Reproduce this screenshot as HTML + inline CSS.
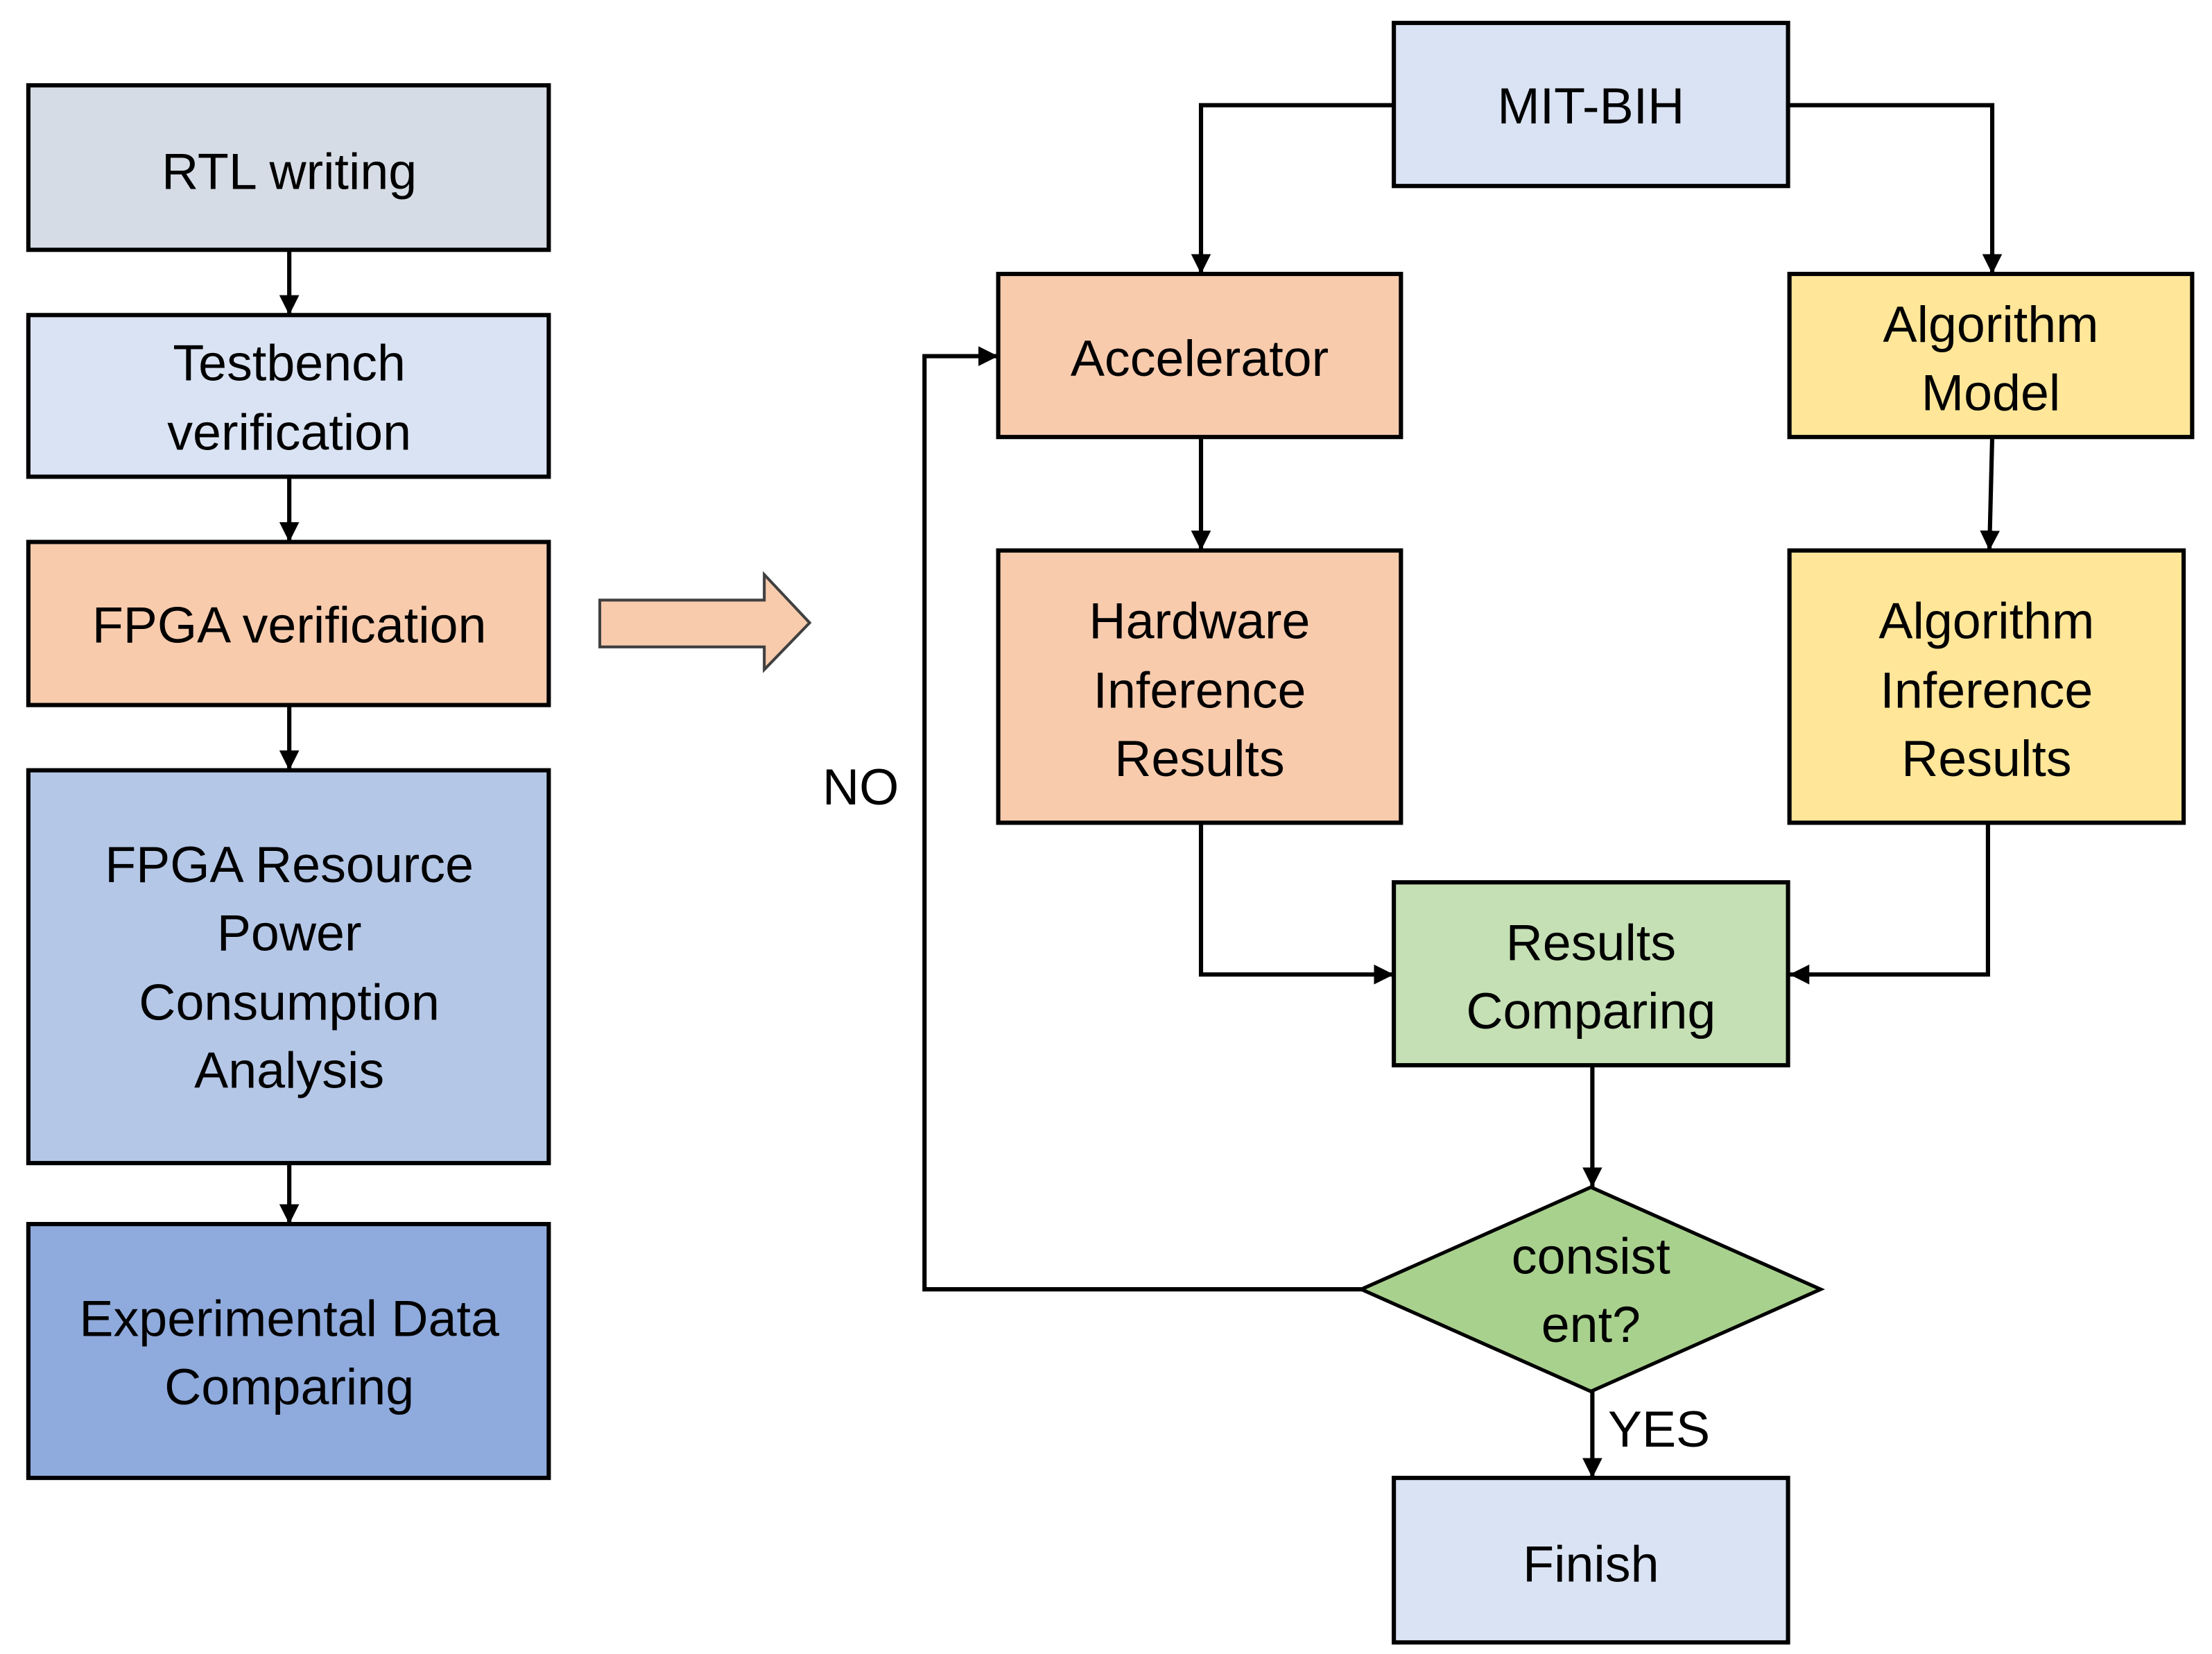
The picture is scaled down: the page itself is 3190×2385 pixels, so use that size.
<!DOCTYPE html>
<html><head><style>html,body{margin:0;padding:0;background:#fff}svg{display:block}</style></head>
<body>
<svg width="3190" height="2385" viewBox="0 0 1560 1166" xmlns="http://www.w3.org/2000/svg">
<defs>
<marker id="b" viewBox="0 0 10 10" markerWidth="14" markerHeight="14" refX="10" refY="5" orient="auto" markerUnits="userSpaceOnUse"><path d="M0,0 L10,5 L0,10 z" fill="#000"/></marker></defs>
<g stroke="#000" stroke-width="3">
<rect x="20" y="60" width="367" height="116" fill="#d6dce5"/>
<rect x="20" y="222" width="367" height="114" fill="#dae3f3"/>
<rect x="20" y="382" width="367" height="115" fill="#f8cbad"/>
<rect x="20" y="543" width="367" height="277" fill="#b4c7e7"/>
<rect x="20" y="863" width="367" height="179" fill="#8faadc"/>
<rect x="983" y="16" width="278" height="115" fill="#dae3f3"/>
<rect x="704" y="193" width="284" height="115" fill="#f8cbad"/>
<rect x="1262" y="193" width="284" height="115" fill="#ffe699"/>
<rect x="704" y="388" width="284" height="192" fill="#f8cbad"/>
<rect x="1262" y="388" width="278" height="192" fill="#ffe699"/>
<rect x="983" y="622" width="278" height="129" fill="#c5e0b4"/>
<polygon points="1122,837 1284,909 1122,981 960,909" fill="#a9d18e" stroke-width="2.5"/>
<rect x="983" y="1042" width="278" height="116" fill="#dae3f3"/>
</g>
<polygon points="423,423 539,423 539,405 571,439 539,472 539,456 423,456" fill="#f8cbad" stroke="#404040" stroke-width="2"/>
<g stroke="#000" stroke-width="3" fill="none" marker-end="url(#b)">
<path d="M204,176 V222"/><path d="M204,336 V382"/><path d="M204,497 V543"/><path d="M204,820 V863"/>
<path d="M983,74 H847 V193"/><path d="M1261,74 H1405 V193"/>
<path d="M847,308 V388"/><path d="M1405,308 L1403,388"/>
<path d="M847,580 V687 H983"/><path d="M1402,580 V687 H1262"/>
<path d="M1123,751 V837"/>
<path d="M960,909 H652 V251 H704"/>
<path d="M1123,981 V1042"/>
</g>
<g font-family="Liberation Sans, sans-serif" font-size="36" fill="#000" text-anchor="middle">
<text x="204" y="133">RTL writing</text>
<text x="204" y="268">Testbench</text><text x="204" y="317">verification</text>
<text x="204" y="453">FPGA verification</text>
<text x="204" y="622">FPGA Resource</text><text x="204" y="670">Power</text><text x="204" y="719">Consumption</text><text x="204" y="767">Analysis</text>
<text x="204" y="942">Experimental Data</text><text x="204" y="990">Comparing</text>
<text x="1122" y="87">MIT-BIH</text>
<text x="846" y="265">Accelerator</text>
<text x="1404" y="241">Algorithm</text><text x="1404" y="289">Model</text>
<text x="846" y="450">Hardware</text><text x="846" y="499">Inference</text><text x="846" y="547">Results</text>
<text x="1401" y="450">Algorithm</text><text x="1401" y="499">Inference</text><text x="1401" y="547">Results</text>
<text x="1122" y="677">Results</text><text x="1122" y="725">Comparing</text>
<text x="1122" y="898">consist</text><text x="1122" y="946">ent?</text>
<text x="1122" y="1115">Finish</text>
<text x="607" y="567">NO</text>
<text x="1170" y="1020">YES</text>
</g>
</svg>
</body></html>
